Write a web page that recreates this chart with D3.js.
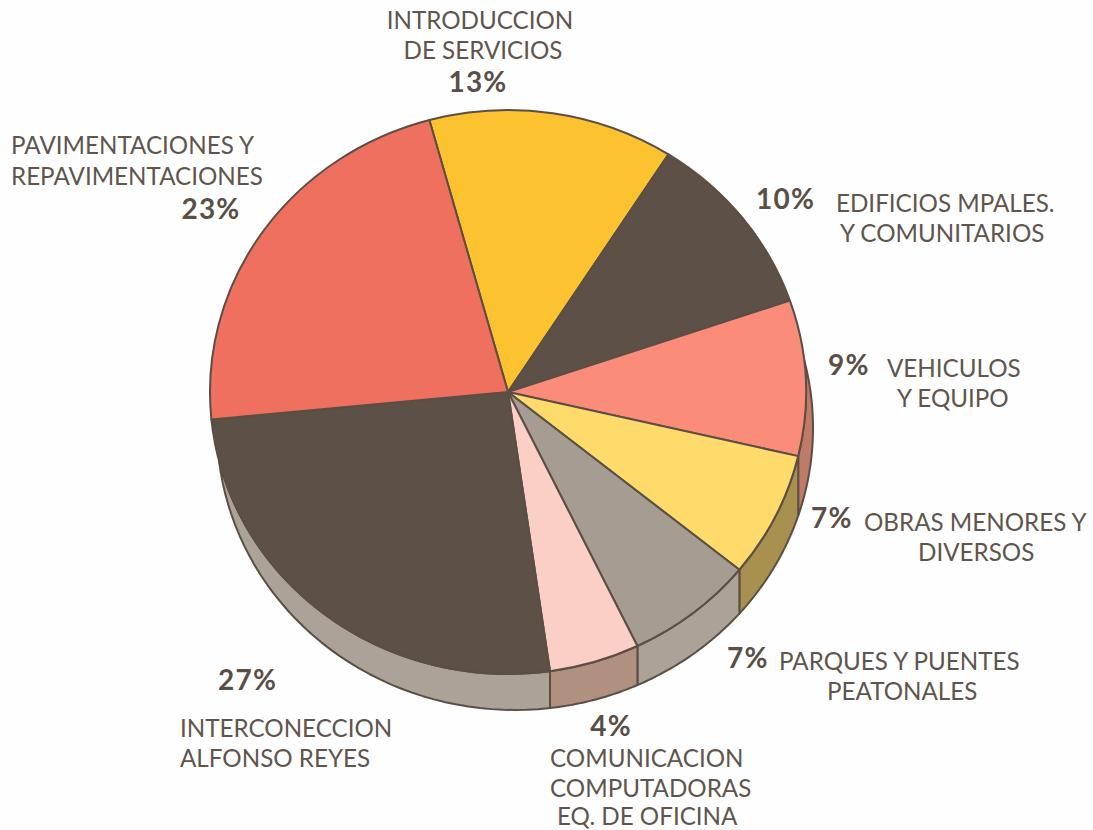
<html>
  <head>
	<meta charset="utf-8">
	<title>Distribucion de la inversion</title>
	<script src="https://cdn.jsdelivr.net/npm/d3@7/dist/d3.min.js"></script>
	<style>
	  html, body { margin: 0; background: #fefefe; }
	  svg { display: block; }
	  text { font-family: Lato, "Open Sans", sans-serif; fill: #5f554d; }
	  .pct { font-weight: 700; font-size: 28px; letter-spacing: 1.2px; fill: #5a4f47; }
	  .lbl { font-size: 24.2px; }
	</style>
  </head>
  <body>
	<svg></svg>
  </body>
  <script type="text/javascript">
	// printed percentages
	var printed = [13, 10, 9, 7, 7, 4, 27, 23];
	// slice sizes as actually drawn in the picture (they differ a little from the printed figures)
	var drawn = [13.3, 10.7, 8.9, 7.2, 7, 4.9, 25.7, 22.3];
	var names = [
	  ['INTRODUCCION', 'DE SERVICIOS'],
	  ['EDIFICIOS MPALES.', 'Y COMUNITARIOS'],
	  ['VEHICULOS', 'Y EQUIPO'],
	  ['OBRAS MENORES Y', 'DIVERSOS'],
	  ['PARQUES Y PUENTES', 'PEATONALES'],
	  ['COMUNICACION', 'COMPUTADORAS', 'EQ. DE OFICINA'],
	  ['INTERCONECCION', 'ALFONSO REYES'],
	  ['PAVIMENTACIONES Y', 'REPAVIMENTACIONES']
	];
	var topColors = ['#fdc22f', '#5d5046', '#fb8c7a', '#fedb6a', '#a59c92', '#fbcfc6', '#5d5046', '#f0705f'];
	var wallColors = ['#fdc22f', '#5d5046', '#c07a68', '#a8914f', '#aba397', '#b0917f', '#aba397', '#f0705f'];

	(function() {
	  var svg = d3.select('svg').attr('width', 1093).attr('height', 830),
		  cx = 508, cy = 392, rx = 298, ry = 282,
		  offX = 7, offY = 36,
		  edge = '#5b4e45',
		  startAngle = -15.3 * Math.PI / 180;

	  var pie = d3.pie().sort(null)
		  .startAngle(startAngle)
		  .endAngle(startAngle + 2 * Math.PI);
	  var slices = pie(drawn);

	  var canvas = svg.append('g');

	  // where the rim of the top ellipse crosses the rim of the bottom one
	  var nx = offX / rx, ny = offY / ry, len = Math.sqrt(nx * nx + ny * ny),
		  h = Math.sqrt(1 - len * len / 4),
		  px = ny / len, py = -nx / len;
	  function angleOf(x, y) {
		var a = Math.atan2(x, -y);
		return a < 0 ? a + 2 * Math.PI : a;
	  }
	  var wallFrom = angleOf(nx / 2 + h * px, ny / 2 + h * py),
		  wallTo = angleOf(nx / 2 - h * px, ny / 2 - h * py),
		  lowerFrom = angleOf(-nx / 2 + h * px, -ny / 2 + h * py),
		  lowerTo = angleOf(-nx / 2 - h * px, -ny / 2 - h * py);

	  // dividers on the wall are vertical, so the bottom angle is found from x
	  function lowerAngle(a) {
		if (a === wallFrom) return lowerFrom;
		if (a === wallTo) return lowerTo;
		var s = (rx * Math.sin(a) - offX) / rx;
		return Math.PI - Math.asin(s);
	  }
	  function topPoint(a) {
		return [cx + rx * Math.sin(a), cy - ry * Math.cos(a)];
	  }
	  function lowPoint(a) {
		return [cx + offX + rx * Math.sin(a), cy + offY - ry * Math.cos(a)];
	  }
	  var line = d3.line();

	  function wallPath(d) {
		var a0 = d.startAngle < 0 ? d.startAngle + 2 * Math.PI : d.startAngle,
			a1 = a0 + (d.endAngle - d.startAngle);
		a0 = Math.max(a0, wallFrom);
		a1 = Math.min(a1, wallTo);
		if (a1 <= a0) return null;
		var b0 = lowerAngle(a0), b1 = lowerAngle(a1), n = 40;
		var upper = d3.range(n + 1).map(function(i) { return topPoint(a0 + (a1 - a0) * i / n); }),
			lower = d3.range(n + 1).map(function(i) { return lowPoint(b1 + (b0 - b1) * i / n); });
		return line(upper.concat(lower)) + 'Z';
	  }

	  canvas.selectAll('.wall')
			.data(slices)
			.enter()
			.append('path')
			.attr('class', 'wall')
			.attr('d', wallPath)
			.attr('fill', function(d, i) { return wallColors[i]; })
			.attr('stroke', edge)
			.attr('stroke-width', 2)
			.attr('stroke-linejoin', 'round');

	  // top face: circle arcs squashed into the ellipse
	  var arc = d3.arc().innerRadius(0).outerRadius(rx);
	  canvas.append('g')
			.attr('transform', 'translate(' + cx + ',' + cy + ') scale(1,' + (ry / rx) + ')')
			.selectAll('.slice')
			.data(slices)
			.enter()
			.append('path')
			.attr('class', 'slice')
			.attr('d', arc)
			.attr('fill', function(d, i) { return topColors[i]; })
			.attr('stroke', edge)
			.attr('stroke-width', 2)
			.attr('stroke-linejoin', 'round')
			.attr('vector-effect', 'non-scaling-stroke');

	  // label placement, same order as the slices
	  var pctAt = [[478, 92, 'middle'], [756, 209, 'start'], [828, 375, 'start'], [811, 528, 'start'],
				   [727, 668, 'start'], [611, 736, 'middle'], [218, 690, 'start'], [211, 219, 'middle']];
	  var nameAt = [
		[[480, 29, 'middle'], [483, 59, 'middle']],
		[[836, 212, 'start'], [840, 242, 'start']],
		[[887, 377, 'start'], [897, 407, 'start']],
		[[864, 531, 'start'], [918, 561, 'start']],
		[[779, 670, 'start'], [827, 700, 'start']],
		[[550, 767, 'start'], [550, 797, 'start'], [557, 825, 'start']],
		[[180, 737, 'start'], [180, 767, 'start']],
		[[11, 154, 'start'], [11, 185, 'start']]
	  ];

	  canvas.selectAll('.pct')
			.data(printed)
			.enter()
			.append('text')
			.attr('class', 'pct')
			.attr('x', function(d, i) { return pctAt[i][0]; })
			.attr('y', function(d, i) { return pctAt[i][1]; })
			.attr('text-anchor', function(d, i) { return pctAt[i][2]; })
			.text(function(d) { return d + '%'; });

	  names.forEach(function(lines, i) {
		canvas.selectAll('.lbl-' + i)
			  .data(lines)
			  .enter()
			  .append('text')
			  .attr('class', 'lbl lbl-' + i)
			  .attr('x', function(d, j) { return nameAt[i][j][0]; })
			  .attr('y', function(d, j) { return nameAt[i][j][1]; })
			  .attr('text-anchor', function(d, j) { return nameAt[i][j][2]; })
			  .text(function(d) { return d; });
	  });
	})();
  </script>
</html>
